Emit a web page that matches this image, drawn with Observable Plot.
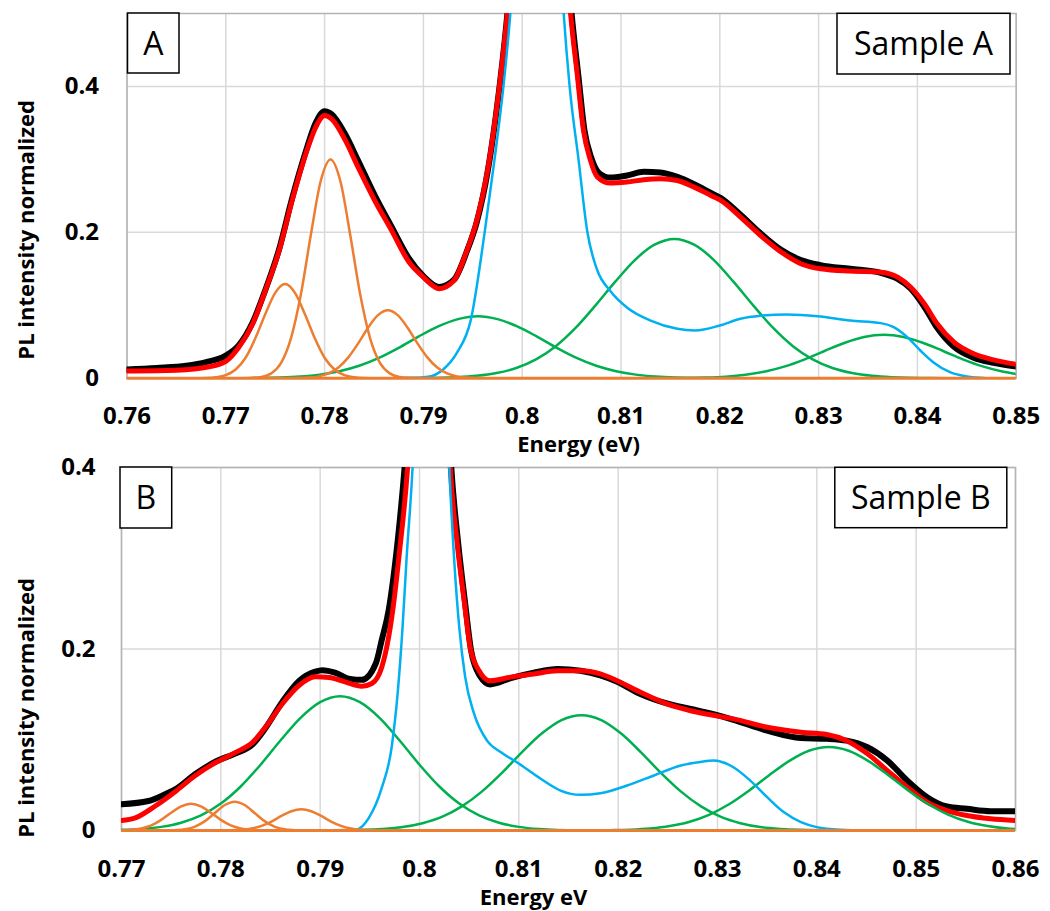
<!DOCTYPE html>
<html><head><meta charset="utf-8">
<script src="https://cdn.jsdelivr.net/npm/d3@7"></script>
<script src="https://cdn.jsdelivr.net/npm/@observablehq/plot@0.6"></script>
<style>
html,body{margin:0;padding:0;background:#fff;}
#chart svg{display:block;overflow:visible;}
</style></head><body><div id="chart"></div>
<script>
// ---------- Panel A (Sample A) ----------
const xTicksA = [0.76,0.77,0.78,0.79,0.80,0.81,0.82,0.83,0.84,0.85];
const yTicksA = [0,0.2,0.4];
const aData = [[0.760,0.012],[0.763,0.014],[0.766,0.017],[0.768,0.022],[0.770,0.031],[0.7713,0.045],[0.7727,0.076],[0.774,0.121],[0.7754,0.177],[0.7767,0.246],[0.7781,0.311],[0.7791,0.350],[0.780,0.366],[0.7807,0.362],[0.7821,0.334],[0.7834,0.298],[0.7851,0.250],[0.7868,0.207],[0.7885,0.165],[0.790,0.140],[0.7916,0.125],[0.7931,0.135],[0.7944,0.174],[0.7954,0.214],[0.7965,0.283],[0.7973,0.356],[0.7980,0.434],[0.7985,0.5],[0.8000,0.8],[0.8016,1.05],[0.8035,0.8],[0.8050,0.5],[0.8057,0.413],[0.8063,0.34],[0.8070,0.302],[0.8078,0.281],[0.8089,0.275],[0.8106,0.278],[0.8123,0.283],[0.8140,0.282],[0.8157,0.276],[0.8174,0.266],[0.8191,0.254],[0.8201,0.247],[0.8221,0.224],[0.8241,0.199],[0.8262,0.176],[0.8282,0.162],[0.8302,0.155],[0.8332,0.150],[0.8363,0.1445],[0.8380,0.136],[0.8393,0.123],[0.8407,0.098],[0.8420,0.069],[0.8437,0.043],[0.8457,0.028],[0.8477,0.021],[0.850,0.016]];
const aFit = [[0.760,0.010],[0.765,0.011],[0.7683,0.0156],[0.770,0.023],[0.7713,0.042],[0.7727,0.074],[0.774,0.120],[0.7754,0.175],[0.7767,0.243],[0.7781,0.3075],[0.7791,0.344],[0.780,0.360],[0.7807,0.3556],[0.7821,0.326],[0.7834,0.289],[0.7851,0.243],[0.7868,0.202],[0.7885,0.160],[0.790,0.1386],[0.7916,0.1226],[0.7931,0.134],[0.7944,0.175],[0.7954,0.216],[0.7965,0.285],[0.7973,0.358],[0.7980,0.436],[0.7985,0.5],[0.8000,0.8],[0.8016,1.05],[0.8035,0.8],[0.8049,0.5],[0.8056,0.413],[0.8062,0.34],[0.8069,0.299],[0.8076,0.276],[0.8089,0.2675],[0.8106,0.269],[0.8123,0.272],[0.8140,0.2735],[0.8157,0.271],[0.8174,0.262],[0.8191,0.2506],[0.8201,0.2438],[0.8221,0.221],[0.8241,0.196],[0.8262,0.173],[0.8282,0.157],[0.8302,0.150],[0.8332,0.1468],[0.8363,0.1454],[0.8380,0.1386],[0.8393,0.125],[0.8407,0.102],[0.8420,0.0746],[0.8437,0.0494],[0.8457,0.0335],[0.8477,0.0252],[0.850,0.0190]];
const aOrange1 = [[0.767,0],[0.768,0.0003],[0.769,0.0013],[0.770,0.0043],[0.771,0.012],[0.772,0.028],[0.773,0.055],[0.774,0.088],[0.775,0.117],[0.776,0.129],[0.777,0.117],[0.778,0.088],[0.779,0.055],[0.780,0.028],[0.781,0.012],[0.782,0.0043],[0.783,0.0013],[0.784,0.0003],[0.785,0]];
const aOrange2 = [[0.7716,0],[0.7726,0.0004],[0.7736,0.0017],[0.7746,0.0066],[0.7756,0.021],[0.7766,0.055],[0.7776,0.115],[0.7786,0.196],[0.7796,0.270],[0.7806,0.300],[0.7816,0.270],[0.7826,0.196],[0.7836,0.115],[0.7846,0.055],[0.7856,0.021],[0.7866,0.0066],[0.7876,0.0017],[0.7886,0.0004],[0.7896,0]];
const aOrange3 = [[0.7764,0],[0.7774,0.0002],[0.7784,0.0008],[0.7794,0.0025],[0.7804,0.0065],[0.7814,0.0146],[0.7824,0.0285],[0.7834,0.0478],[0.7844,0.0692],[0.7854,0.0864],[0.7864,0.093],[0.7874,0.0864],[0.7884,0.0692],[0.7894,0.0478],[0.7904,0.0285],[0.7914,0.0146],[0.7924,0.0065],[0.7934,0.0025],[0.7944,0.0008],[0.7954,0.0002],[0.7964,0]];
const aGreen1 = [[0.7675,0],[0.7715,0.0001],[0.7755,0.001],[0.7775,0.0023],[0.7795,0.0049],[0.7815,0.0096],[0.7835,0.0171],[0.7855,0.0279],[0.7875,0.0417],[0.7895,0.057],[0.7915,0.071],[0.7935,0.081],[0.7955,0.085],[0.7975,0.081],[0.7995,0.071],[0.8015,0.057],[0.8035,0.0417],[0.8055,0.0279],[0.8075,0.0171],[0.8095,0.0096],[0.8115,0.0049],[0.8135,0.0023],[0.8155,0.001],[0.8195,0.0001],[0.8235,0]];
const aGreen2 = [[0.7854,0],[0.7894,0.0002],[0.7934,0.0014],[0.7954,0.0032],[0.7974,0.0070],[0.7994,0.0140],[0.8014,0.0258],[0.8034,0.0439],[0.8054,0.0689],[0.8074,0.0995],[0.8094,0.132],[0.8114,0.162],[0.8134,0.183],[0.8154,0.191],[0.8174,0.183],[0.8194,0.162],[0.8214,0.132],[0.8234,0.0995],[0.8254,0.0689],[0.8274,0.0439],[0.8294,0.0258],[0.8314,0.0140],[0.8334,0.0070],[0.8354,0.0032],[0.8374,0.0014],[0.8414,0.0002],[0.8454,0]];
const aGreen3 = [[0.8106,0],[0.8146,0.0001],[0.8186,0.0009],[0.8206,0.0021],[0.8226,0.0047],[0.8246,0.0092],[0.8266,0.0162],[0.8286,0.0259],[0.8306,0.0373],[0.8326,0.0483],[0.8346,0.0565],[0.8366,0.0595],[0.8386,0.0565],[0.8406,0.0483],[0.8426,0.0373],[0.8446,0.0259],[0.8466,0.0162],[0.8486,0.0092],[0.850,0.0058]];
const aBlue = [[0.7870,0],[0.7890,0.0005],[0.7905,0.002],[0.7920,0.012],[0.7934,0.035],[0.7948,0.080],[0.7962,0.200],[0.7972,0.300],[0.7981,0.400],[0.7988,0.500],[0.8000,0.75],[0.8016,1.0],[0.8032,0.75],[0.8042,0.5],[0.8048,0.4],[0.8057,0.3],[0.8066,0.2],[0.8076,0.148],[0.8089,0.120],[0.8106,0.097],[0.8130,0.079],[0.8157,0.0677],[0.8175,0.0655],[0.8200,0.0723],[0.8221,0.0815],[0.8241,0.0856],[0.8268,0.0874],[0.8299,0.085],[0.8332,0.079],[0.8363,0.0755],[0.8376,0.070],[0.8390,0.056],[0.8403,0.038],[0.8416,0.022],[0.8433,0.0082],[0.8450,0.0023],[0.8470,0]];

// ---------- Panel B (Sample B) ----------
const xTicksB = [0.77,0.78,0.79,0.80,0.81,0.82,0.83,0.84,0.85,0.86];
const yTicksB = [0,0.2,0.4];
const bData = [[0.770,0.029],[0.7727,0.0325],[0.7744,0.040],[0.7755,0.046],[0.7774,0.062],[0.7795,0.076],[0.7815,0.085],[0.7832,0.095],[0.7845,0.113],[0.7862,0.142],[0.7879,0.165],[0.7895,0.175],[0.7902,0.1767],[0.7915,0.174],[0.7930,0.167],[0.7942,0.166],[0.7956,0.184],[0.7962,0.21],[0.7969,0.243],[0.7975,0.29],[0.7985,0.40],[0.8000,0.65],[0.8012,1.05],[0.8022,0.65],[0.8032,0.40],[0.8039,0.316],[0.8046,0.25],[0.8052,0.198],[0.8061,0.170],[0.8071,0.161],[0.8092,0.168],[0.8115,0.174],[0.8139,0.178],[0.8162,0.176],[0.8182,0.171],[0.8199,0.164],[0.8223,0.150],[0.8249,0.140],[0.8273,0.134],[0.8293,0.129],[0.8316,0.122],[0.8350,0.110],[0.8384,0.1018],[0.8410,0.101],[0.8430,0.099],[0.8451,0.0917],[0.8471,0.077],[0.8491,0.055],[0.8511,0.0367],[0.8531,0.0264],[0.8551,0.0239],[0.8575,0.0213],[0.860,0.0213]];
const bFit = [[0.770,0.0111],[0.7714,0.014],[0.7734,0.027],[0.7755,0.0436],[0.7774,0.0603],[0.7795,0.075],[0.7815,0.0861],[0.7832,0.0972],[0.7845,0.1139],[0.7862,0.1397],[0.7879,0.160],[0.7895,0.1693],[0.7909,0.1686],[0.7925,0.1638],[0.7942,0.159],[0.7952,0.162],[0.7962,0.180],[0.7969,0.2137],[0.7974,0.2506],[0.7979,0.2987],[0.7988,0.40],[0.8000,0.65],[0.8012,1.05],[0.8022,0.65],[0.8031,0.40],[0.8038,0.316],[0.8045,0.253],[0.8051,0.2019],[0.8060,0.176],[0.8071,0.165],[0.8092,0.169],[0.8115,0.1725],[0.8139,0.176],[0.8162,0.176],[0.8182,0.1725],[0.8199,0.165],[0.8223,0.152],[0.8249,0.1395],[0.8273,0.132],[0.8293,0.1275],[0.8316,0.123],[0.8350,0.1138],[0.8384,0.1083],[0.8410,0.1057],[0.8430,0.099],[0.8451,0.0845],[0.8471,0.066],[0.8491,0.0477],[0.8511,0.0312],[0.8531,0.022],[0.8551,0.0165],[0.8575,0.0129],[0.860,0.011]];
const bOrange1 = [[0.769,0],[0.770,0.0002],[0.771,0.0007],[0.772,0.0022],[0.773,0.0056],[0.774,0.0117],[0.775,0.0196],[0.776,0.0267],[0.777,0.0296],[0.778,0.0267],[0.779,0.0196],[0.780,0.0117],[0.781,0.0056],[0.782,0.0022],[0.783,0.0007],[0.784,0.0002],[0.785,0]];
const bOrange2 = [[0.7744,0],[0.7754,0.0004],[0.7764,0.0014],[0.7774,0.0043],[0.7784,0.0103],[0.7794,0.0193],[0.7804,0.0281],[0.7814,0.0318],[0.7824,0.0281],[0.7834,0.0193],[0.7844,0.0103],[0.7854,0.0043],[0.7864,0.0014],[0.7874,0.0004],[0.7884,0]];
const bOrange3 = [[0.7801,0],[0.7811,0.0002],[0.7821,0.0008],[0.7831,0.0022],[0.7841,0.0051],[0.7851,0.0099],[0.7861,0.016],[0.7871,0.0212],[0.7881,0.0233],[0.7891,0.0212],[0.7901,0.016],[0.7911,0.0099],[0.7921,0.0051],[0.7931,0.0022],[0.7941,0.0008],[0.7951,0.0002],[0.7961,0]];
const bGreen1 = [[0.770,0.0007],[0.772,0.0017],[0.774,0.0040],[0.776,0.0086],[0.778,0.0167],[0.780,0.0297],[0.782,0.0485],[0.784,0.0725],[0.786,0.0992],[0.788,0.1239],[0.790,0.1415],[0.792,0.148],[0.794,0.1415],[0.796,0.1239],[0.798,0.0992],[0.800,0.0725],[0.802,0.0485],[0.804,0.0297],[0.806,0.0167],[0.808,0.0086],[0.810,0.0040],[0.812,0.0017],[0.816,0.0002],[0.820,0]];
const bGreen2 = [[0.7863,0],[0.7903,0.0001],[0.7943,0.0007],[0.7963,0.0017],[0.7983,0.0038],[0.8003,0.0080],[0.8023,0.0152],[0.8043,0.0268],[0.8063,0.0431],[0.8083,0.0635],[0.8103,0.0861],[0.8123,0.1068],[0.8143,0.1217],[0.8163,0.127],[0.8183,0.1217],[0.8203,0.1068],[0.8223,0.0861],[0.8243,0.0635],[0.8263,0.0431],[0.8283,0.0268],[0.8303,0.0152],[0.8323,0.0080],[0.8343,0.0038],[0.8363,0.0017],[0.8383,0.0007],[0.8423,0.0001],[0.8463,0]];
const bGreen3 = [[0.8152,0],[0.8192,0.0004],[0.8212,0.0009],[0.8232,0.0022],[0.8252,0.0049],[0.8272,0.0097],[0.8292,0.0176],[0.8312,0.0292],[0.8332,0.0442],[0.8352,0.0609],[0.8372,0.0765],[0.8392,0.0879],[0.8412,0.092],[0.8432,0.0879],[0.8452,0.0765],[0.8472,0.0609],[0.8492,0.0442],[0.8512,0.0292],[0.8532,0.0176],[0.8552,0.0097],[0.8572,0.0049],[0.8592,0.0022],[0.860,0.0016]];
const bBlue = [[0.7900,0],[0.7920,0.0002],[0.7936,0.001],[0.7949,0.014],[0.7962,0.047],[0.7972,0.092],[0.7978,0.151],[0.7983,0.225],[0.7987,0.30],[0.7993,0.40],[0.8000,0.6],[0.8012,1.0],[0.8024,0.6],[0.8030,0.40],[0.8035,0.297],[0.8040,0.224],[0.8046,0.169],[0.8055,0.1285],[0.8068,0.099],[0.8082,0.0862],[0.8098,0.0752],[0.8122,0.057],[0.8142,0.044],[0.8162,0.0393],[0.8182,0.041],[0.8209,0.0496],[0.8236,0.0606],[0.8263,0.0716],[0.8283,0.0755],[0.8296,0.077],[0.8316,0.0697],[0.8333,0.055],[0.8350,0.0367],[0.8367,0.020],[0.8384,0.0092],[0.8400,0.0037],[0.8424,0.0008],[0.8450,0]];

const titlesA = {box: "A", sample: "Sample A", x: "Energy (eV)", y: "PL intensity normalized"};
const titlesB = {box: "B", sample: "Sample B", x: "Energy eV", y: "PL intensity normalized"};

// ---------- drawing ----------
const FONT = "Open Sans";
const C = {data: "#000000", fit: "#FF0000", orange: "#ED7D31", green: "#00B050", blue: "#00B0F0", grid: "#d9d9d9", frame: "#b3b3b3"};
const fmt = d => String(+d.toFixed(2));

function labelBox(label, side, offX, offY, w, h) {
  return (index, scales, values, dims) => {
    const left = side === "left" ? dims.marginLeft + offX : dims.width - dims.marginRight - offX - w;
    const top = dims.marginTop + offY;
    const g = d3.create("svg:g");
    g.append("rect").attr("x", left).attr("y", top).attr("width", w).attr("height", h)
      .attr("fill", "white").attr("stroke", "black").attr("stroke-width", 1.5);
    g.append("text").attr("x", left + w / 2).attr("y", top + h / 2 + 11.5)
      .attr("text-anchor", "middle").attr("font-size", 32).attr("font-family", FONT)
      .attr("fill", "black").text(label);
    return g.node();
  };
}

function line(data, stroke, strokeWidth) {
  return Plot.line(data, {x: d => d[0], y: d => d[1], stroke, strokeWidth, curve: "monotone-x", clip: true, strokeLinejoin: "round"});
}

function panel(cfg) {
  return Plot.plot({
    width: 1050, height: cfg.height,
    marginTop: cfg.mt, marginBottom: cfg.mb, marginLeft: cfg.ml, marginRight: cfg.mr,
    style: {fontFamily: FONT, background: "white", color: "black", overflow: "visible"},
    x: {domain: cfg.xDomain},
    y: {domain: cfg.yDomain},
    marks: [
      Plot.gridX(cfg.xTicks, {stroke: C.grid, strokeOpacity: 1, strokeWidth: 1.5}),
      Plot.gridY(cfg.yTicks.filter(d => d > 0), {stroke: C.grid, strokeOpacity: 1, strokeWidth: 1.5}),
      Plot.frame({stroke: C.frame, strokeWidth: 1.5}),
      Plot.axisX(cfg.xTicks, {tickSize: 0, tickPadding: 29, tickFormat: fmt, fontSize: 24, fontWeight: "bold", label: null}),
      Plot.axisY(cfg.yTicks, {tickSize: 0, tickPadding: cfg.yPad, tickFormat: fmt, fontSize: 24, fontWeight: "bold", label: null}),
      Plot.text([cfg.titles.x], {text: d => d, frameAnchor: "bottom", textAnchor: "middle", dx: cfg.xtdx, dy: cfg.xtdy, lineAnchor: "middle", fontSize: 22, fontWeight: "bold"}),
      Plot.text([cfg.titles.y], {text: d => d, frameAnchor: "left", textAnchor: "middle", rotate: -90, dx: cfg.ytdx, dy: cfg.ytdy, lineAnchor: "middle", fontSize: 22, fontWeight: "bold"}),
      line(cfg.data, C.data, 6),
      line(cfg.fit, C.fit, 5),
      ...cfg.greens.map(s => line(s, C.green, 2.5)),
      line(cfg.blue, C.blue, 2.5),
      ...cfg.oranges.map(s => line(s, C.orange, 2.5)),
      Plot.ruleY([0], {stroke: C.orange, strokeWidth: 3}),
      labelBox(cfg.titles.box, "left", cfg.box1[0], cfg.box1[1], cfg.box1[2], cfg.box1[3]),
      labelBox(cfg.titles.sample, "right", cfg.box2[0], cfg.box2[1], cfg.box2[2], cfg.box2[3])
    ]
  });
}

const chart = document.getElementById("chart");
chart.append(panel({
  height: 455, mt: 13, mb: 77.3, ml: 126.5, mr: 34.3,
  xDomain: [0.76, 0.85], yDomain: [0, 0.5], xTicks: xTicksA, yTicks: yTicksA, yPad: 28,
  titles: titlesA, xtdx: 7, xtdy: 67, ytdx: -100.5, ytdy: 34,
  data: aData, fit: aFit, greens: [aGreen1, aGreen2, aGreen3], blue: aBlue, oranges: [aOrange1, aOrange2, aOrange3],
  box1: [1, 0, 51.5, 60], box2: [5.7, 0.3, 173, 60.7]
}));
chart.append(panel({
  height: 456, mt: 12, mb: 81, ml: 121, mr: 35,
  xDomain: [0.77, 0.86], yDomain: [0, 0.4], xTicks: xTicksB, yTicks: yTicksB, yPad: 26,
  titles: titlesB, xtdx: -35, xtdy: 67, ytdx: -95, ytdy: 59,
  data: bData, fit: bFit, greens: [bGreen1, bGreen2, bGreen3], blue: bBlue, oranges: [bOrange1, bOrange2, bOrange3],
  box1: [-1, 0, 51.7, 61], box2: [8.2, 0.3, 172, 60.4]
}));
</script></body></html>
